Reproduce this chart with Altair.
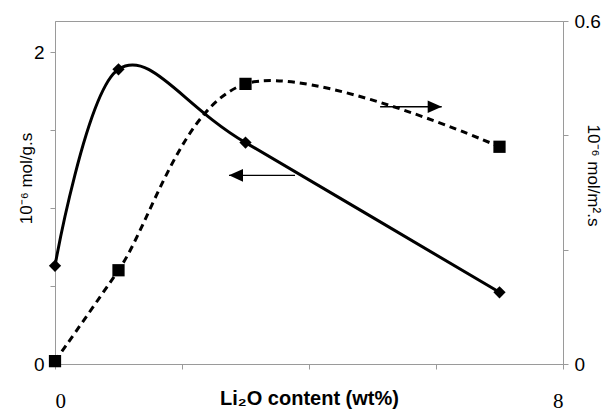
import altair as alt
import pandas as pd

li2o = [0, 1, 3, 7]
rate_g = [0.63, 1.89, 1.42, 0.46]      # 10^-6 mol/g.s (left axis)
rate_m2 = [0.005, 0.164, 0.49, 0.38]   # 10^-6 mol/m2.s (right axis)

# arrow annotations (data coordinates, left-axis scale)
arrow_left = {"x": 3.78, "x2": 2.74, "y": 1.21}
arrow_right = {"x": 5.12, "x2": 6.09, "y": 1.65}

df_g = pd.DataFrame({"x": li2o, "y": rate_g})
df_m = pd.DataFrame({"x": li2o, "y": rate_m2})
df_arr = pd.DataFrame([arrow_left, arrow_right])
df_heads = pd.DataFrame({"x": [arrow_left["x2"], arrow_right["x2"]],
                         "y": [arrow_left["y"], arrow_right["y"]],
                         "dir": ["L", "R"]})

GRAY = "#9a9a9a"
SANS = "Liberation Sans"
SERIF = "'Liberation Serif', 'DejaVu Serif', serif"

xaxis = alt.Axis(values=[0, 2, 4, 6, 8], format="~g",
                 labelExpr="datum.value==0||datum.value==8 ? datum.label : ''",
                 grid=False, domainColor=GRAY, tickColor=GRAY, tickSize=5,
                 labelFont=SERIF, labelFontSize=21, labelColor="black",
                 labelPadding=21, title="Li\u2082O content (wt%)", titleFont=SANS,
                 titleFontSize=20, titleFontWeight="bold", titleColor="black",
                 titleY=40, titleBaseline="alphabetic")
xs = alt.Scale(domain=[0, 8], nice=False)
ys_left = alt.Scale(domain=[0, 2.2], nice=False)
ys_right = alt.Scale(domain=[0, 0.6], nice=False)

yaxis_left = alt.Axis(values=[0, 0.5, 1, 1.5, 2], format="~g",
                      labelExpr="datum.value==0||datum.value==2 ? datum.label : ''",
                      grid=False, domainColor=GRAY, tickColor=GRAY, tickSize=5,
                      labelFont=SANS, labelFontSize=19, labelColor="black", labelPadding=6,
                      title="10\u207b\u2076 mol/g.s", titleFont=SANS, titleFontSize=17,
                      titleFontWeight="normal", titleColor="black",
                      titleAngle=270, titleX=-29, titleY=157, titleAlign="center",
                      titleBaseline="middle")
yaxis_right = alt.Axis(orient="right", values=[0, 0.2, 0.4, 0.6], format="~g",
                       labelExpr="datum.value==0||datum.value==0.6 ? datum.label : ''",
                       grid=False, domainColor=GRAY, tickColor=GRAY, tickSize=5,
                       labelFont=SANS, labelFontSize=19, labelColor="black", labelPadding=6,
                       title="10\u207b\u2076 mol/m\u00b2.s", titleFont=SANS, titleFontSize=17,
                       titleFontWeight="normal", titleColor="black",
                       titleAngle=90, titleX=29, titleY=154, titleAlign="center",
                       titleBaseline="middle")

left_line = alt.Chart(df_g).mark_line(color="black", strokeWidth=3, interpolate="cardinal").encode(
    x=alt.X("x:Q", scale=xs, axis=xaxis),
    y=alt.Y("y:Q", scale=ys_left, axis=yaxis_left))
left_pts = alt.Chart(df_g).mark_point(shape="diamond", filled=True, color="black", size=150, opacity=1).encode(
    x=alt.X("x:Q", scale=xs), y=alt.Y("y:Q", scale=ys_left))
arr_rules = alt.Chart(df_arr).mark_rule(color="black", strokeWidth=1.3).encode(
    x=alt.X("x:Q", scale=xs), x2="x2:Q", y=alt.Y("y:Q", scale=ys_left))
head_l = alt.Chart(df_heads[df_heads.dir == "L"]).mark_point(
    shape="M0,0 L2,-0.9 L2,0.9 Z", filled=True, color="black", size=196, opacity=1).encode(
    x=alt.X("x:Q", scale=xs), y=alt.Y("y:Q", scale=ys_left))
head_r = alt.Chart(df_heads[df_heads.dir == "R"]).mark_point(
    shape="M0,0 L-2,-0.9 L-2,0.9 Z", filled=True, color="black", size=196, opacity=1).encode(
    x=alt.X("x:Q", scale=xs), y=alt.Y("y:Q", scale=ys_left))

left = alt.layer(left_line, left_pts, arr_rules, head_l, head_r)

right_line = alt.Chart(df_m).mark_line(color="black", strokeWidth=3, strokeDash=[7, 5],
                                       interpolate="cardinal").encode(
    x=alt.X("x:Q", scale=xs),
    y=alt.Y("y:Q", scale=ys_right, axis=yaxis_right))
right_pts = alt.Chart(df_m).mark_square(color="black", size=150, opacity=1).encode(
    x=alt.X("x:Q", scale=xs), y=alt.Y("y:Q", scale=ys_right))
right = alt.layer(right_line, right_pts)

chart = alt.layer(left, right).resolve_scale(y="independent").properties(
    width=508, height=343,
    autosize=alt.AutoSizeParams(type="none"),
    padding={"left": 55, "top": 21, "right": 49, "bottom": 50},
    background="white",
).configure_view(stroke=GRAY, strokeWidth=1)

chart.save("out.html", embed_options={"renderer": "svg", "actions": False})
